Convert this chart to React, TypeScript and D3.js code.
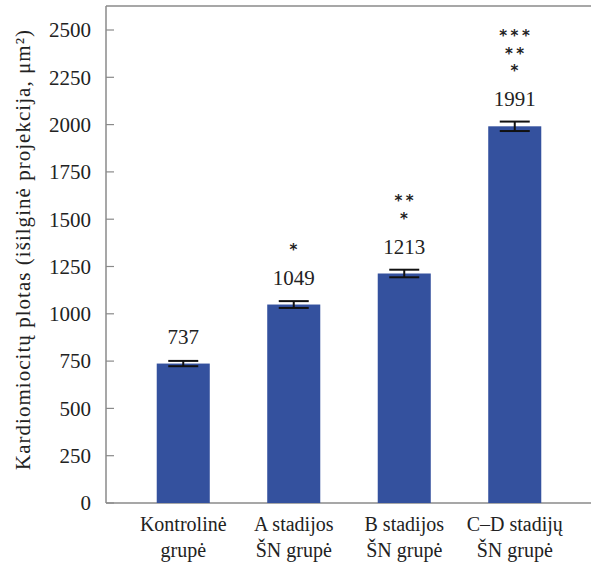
import React from 'react';
import { scaleLinear, scaleBand } from 'd3';

const groups = ['Kontrolinė grupė', 'A stadijos ŠN grupė', 'B stadijos ŠN grupė', 'C–D stadijų ŠN grupė'];
const groupLines = [['Kontrolinė', 'grupė'], ['A stadijos', 'ŠN grupė'], ['B stadijos', 'ŠN grupė'], ['C–D stadijų', 'ŠN grupė']];
const values = [737, 1049, 1213, 1991];
const errors = [14, 18, 20, 25];
const stars = [[], ['*'], ['**', '*'], ['***', '**', '*']];
const yTicks = [0, 250, 500, 750, 1000, 1250, 1500, 1750, 2000, 2250, 2500];
const yTitle = 'Kardiomiocitų plotas (išilginė projekcija, μm²)';

const W = 591;
const H = 567;
const font = 'Liberation Serif, Times New Roman, Times, DejaVu Serif, serif';
const axisColor = '#8a8a8a';
const barColor = '#34519e';

export default function App() {
  const left = 106, top = 6, bottom = 503;

  const y = scaleLinear().domain([0, 2500]).range([bottom, 30]);
  const x = scaleBand<string>()
    .domain(groups)
    .range([128, 570])
    .paddingInner(0.52)
    .paddingOuter(0.26);
  const bw = x.bandwidth();

  return (
    <svg width={W} height={H} style={{ position: 'absolute', left: 0, top: 0, background: '#fff' }}>
      {/* frame */}
      <line x1={left} x2={W} y1={top} y2={top} stroke={axisColor} strokeWidth={1.5} />
      <line x1={left} x2={W} y1={bottom} y2={bottom} stroke={axisColor} strokeWidth={1.5} />
      <line x1={left} x2={left} y1={top} y2={bottom} stroke={axisColor} strokeWidth={1.5} />

      <g fontFamily={font} fill="#222">
        {yTicks.map(t => (
          <g key={t} transform={`translate(0,${y(t)})`}>
            <line x1={left} x2={left + 8} stroke={axisColor} strokeWidth={1.2} />
            <text x={left - 15} dy="0.35em" textAnchor="end" fontSize={21}>{t}</text>
          </g>
        ))}

        <text transform={`translate(23,250) rotate(-90)`} textAnchor="middle"
          dy="0.35em" fontSize={21} textLength={440} lengthAdjust="spacing">{yTitle}</text>

        {groups.map((g, i) => {
          const cx = (x(g) ?? 0) + bw / 2;
          const vTop = y(values[i]);
          const labelY = vTop - 20;
          const n = stars[i].length;
          return (
            <g key={g}>
              <rect x={x(g)} y={vTop} width={bw} height={bottom - vTop} fill={barColor} />
              <g stroke="#111" strokeWidth={2}>
                <line x1={cx} x2={cx} y1={y(values[i] + errors[i])} y2={y(values[i] - errors[i])} />
                <line x1={cx - 15} x2={cx + 15} y1={y(values[i] + errors[i])} y2={y(values[i] + errors[i])} />
                <line x1={cx - 15} x2={cx + 15} y1={y(values[i] - errors[i])} y2={y(values[i] - errors[i])} />
              </g>
              <text x={cx} y={labelY} textAnchor="middle" fontSize={21}>{values[i]}</text>
              {stars[i].map((s, k) => (
                <text key={k} x={cx + 1.5} y={labelY - 30 - (n - 1 - k) * 17.5}
                  textAnchor="middle" fontSize={15} letterSpacing={3.5}
                  fontFamily="DejaVu Sans, sans-serif" fontWeight="bold">{s}</text>
              ))}
              {groupLines[i].map((ln, k) => (
                <text key={k} x={cx} y={bottom + 28 + k * 26} textAnchor="middle" fontSize={20}>{ln}</text>
              ))}
            </g>
          );
        })}
      </g>
    </svg>
  );
}
